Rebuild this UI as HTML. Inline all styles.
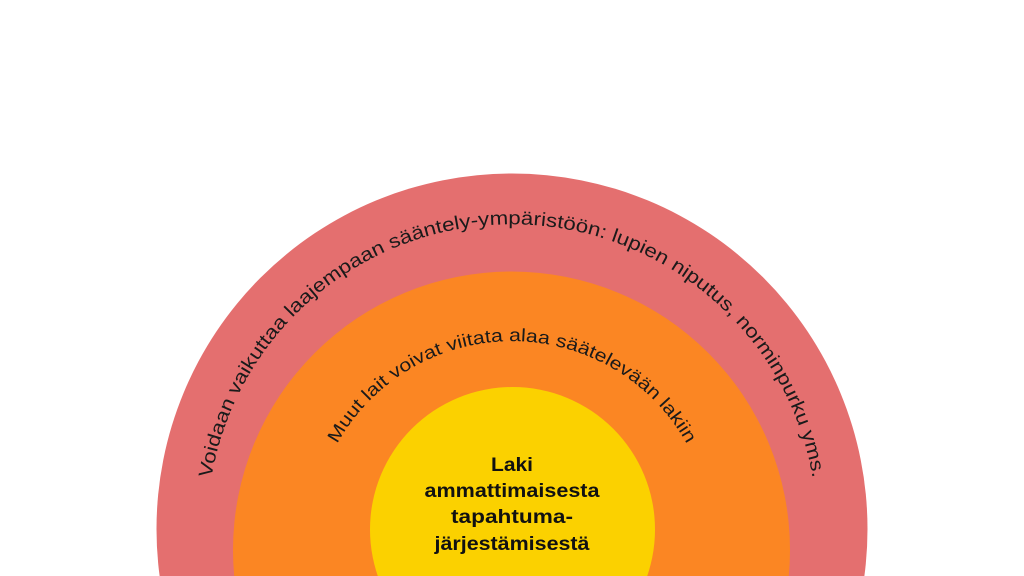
<!DOCTYPE html>
<html><head><meta charset="utf-8"><style>
html,body{margin:0;padding:0;background:#fff;overflow:hidden;}
svg{display:block;}
</style></head><body>
<svg width="1024" height="576" viewBox="0 0 1024 576" xmlns="http://www.w3.org/2000/svg">
<circle cx="512" cy="529" r="355.5" fill="#e46f6f"/>
<circle cx="511.5" cy="550" r="278.5" fill="#fb8623"/>
<circle cx="512.5" cy="529.5" r="142.5" fill="#fbd100"/>
<defs>
<path id="p1" d="M210.8 481.3 A305 305 0 0 1 813.2 481.3"/>
<path id="p2" d="M335 448 A200 200 0 0 1 689 448"/>
</defs>
<text font-family="Liberation Sans, sans-serif" font-size="19" fill="#1a1a1a">
<textPath href="#p1" startOffset="50%" text-anchor="middle" textLength="855" lengthAdjust="spacingAndGlyphs">Voidaan vaikuttaa laajempaan sääntely-ympäristöön: lupien niputus, norminpurku yms.</textPath>
</text>
<text font-family="Liberation Sans, sans-serif" font-size="18" fill="#1a1a1a">
<textPath href="#p2" startOffset="50%" text-anchor="middle" textLength="425" lengthAdjust="spacingAndGlyphs">Muut lait voivat viitata alaa säätelevään lakiin</textPath>
</text>
<g font-family="Liberation Sans, sans-serif" font-size="19" font-weight="bold" fill="#111" text-anchor="middle">
<text x="512" y="471" textLength="42" lengthAdjust="spacingAndGlyphs">Laki</text>
<text x="512" y="497" textLength="175" lengthAdjust="spacingAndGlyphs">ammattimaisesta</text>
<text x="512" y="523" textLength="122" lengthAdjust="spacingAndGlyphs">tapahtuma-</text>
<text x="512" y="550" textLength="155" lengthAdjust="spacingAndGlyphs">järjestämisestä</text>
</g>
</svg>
</body></html>
